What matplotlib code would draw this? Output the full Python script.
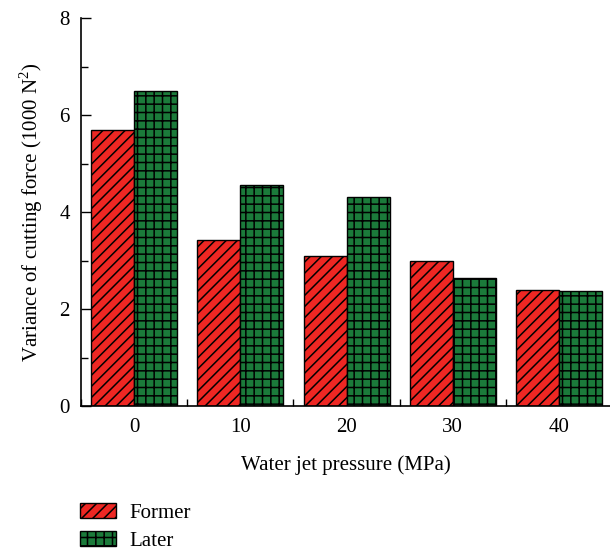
import matplotlib
matplotlib.use("Agg")
import matplotlib.pyplot as plt
import numpy as np
from matplotlib.ticker import MultipleLocator

pressures = [0, 10, 20, 30, 40]
former = [5.70, 3.42, 3.10, 3.00, 2.40]
later = [6.50, 4.55, 4.30, 2.63, 2.37]
series_names = ["Former", "Later"]

plt.rcParams['font.family'] = ['Liberation Serif', 'DejaVu Serif']
plt.rcParams['hatch.linewidth'] = 1.1
plt.rcParams['mathtext.fontset'] = 'custom'
plt.rcParams['mathtext.rm'] = 'Liberation Serif'

fig = plt.figure(figsize=(6.10, 5.52), dpi=100)
ax = fig.add_axes([81/610, 1-406/552, 1-81/610, (406-18)/552])

w = 4.05
x = np.array(pressures, dtype=float)
b1 = ax.bar(x - w/2, former, width=w, color='#EE2723', edgecolor='black',
            linewidth=1.0, hatch='///', label=series_names[0])
b2 = ax.bar(x + w/2, later, width=w, color='#1B7A3A', edgecolor='black',
            linewidth=1.0, hatch='++', label=series_names[1])

ax.set_xlim(-5, 44.8)
ax.set_ylim(0, 8)
ax.set_xticks(pressures)
ax.set_xticklabels([str(p) for p in pressures])
ax.xaxis.set_minor_locator(MultipleLocator(5))
ax.yaxis.set_major_locator(MultipleLocator(2))
ax.yaxis.set_minor_locator(MultipleLocator(1))
ax.tick_params(axis='both', which='major', direction='in', length=7, width=1, labelsize=15)
ax.tick_params(axis='y', which='major', pad=8)
ax.tick_params(axis='x', which='major', length=0, pad=9)
ax.tick_params(axis='both', which='minor', direction='in', length=5, width=1)
for s in ['top', 'right']:
    ax.spines[s].set_visible(False)
for s in ['left', 'bottom']:
    ax.spines[s].set_linewidth(1.2)

ax.set_xlabel("Water jet pressure (MPa)", fontsize=15, labelpad=13)
ax.set_ylabel(r"Variance of cutting force (1000 N$^2$)", fontsize=15, labelpad=10)

fig.legend(handles=[b1, b2], loc='lower left', bbox_to_anchor=(0.10, -0.032),
           frameon=False, fontsize=15, handlelength=1.75, handleheight=0.75,
           handletextpad=0.65, labelspacing=0.38)

fig.savefig("out.png", dpi=100)
